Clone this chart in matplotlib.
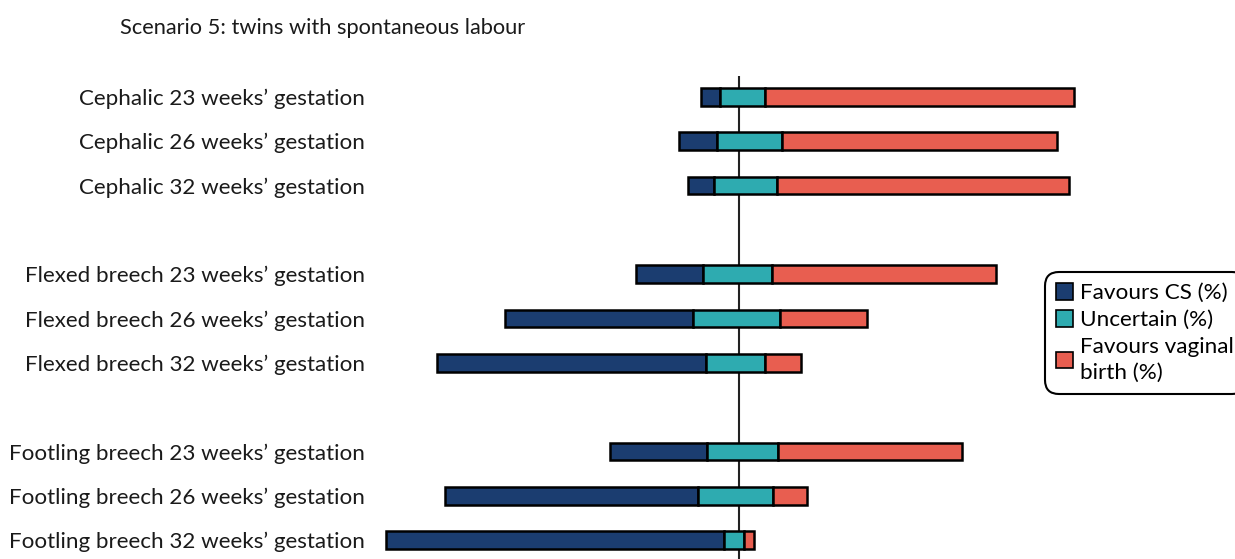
import matplotlib
matplotlib.use("Agg")
import matplotlib.pyplot as plt
from matplotlib.patches import Patch

plt.rcParams["font.family"] = ["Lato", "DejaVu Sans"]

# rows, top to bottom (blank rows split the three groups)
labels = ["Cephalic 23 weeks’ gestation", "Cephalic 26 weeks’ gestation", "Cephalic 32 weeks’ gestation",
          "Flexed breech 23 weeks’ gestation", "Flexed breech 26 weeks’ gestation", "Flexed breech 32 weeks’ gestation",
          "Footling breech 23 weeks’ gestation", "Footling breech 26 weeks’ gestation", "Footling breech 32 weeks’ gestation"]
rows = [0, 1, 2, 4, 5, 6, 8, 9, 10]

# percentages
cs = [5.1, 10.5, 7.2, 18.3, 51.4, 73.3, 26.5, 69.0, 92.2]
unc = [12.1, 17.6, 17.0, 18.6, 23.6, 16.1, 19.2, 20.3, 5.5]
unc_left = [5.2, 6.0, 6.8, 9.8, 12.5, 9.1, 8.7, 11.2, 4.1]   # share of "uncertain" left of the midline
vag = [84.4, 74.9, 79.6, 61.1, 23.7, 9.9, 50.1, 9.3, 2.6]

c_cs = "#1b3d70"
c_unc = "#2eabb0"
c_vag = "#e85e50"

fig = plt.figure(figsize=(12.35, 5.59), dpi=100)
W, H = 1235, 559
ax = fig.add_axes([375 / W, 0, 1 - 375 / W, 1 - 76 / H])

px = 3.67  # pixels per percent
ax.set_xlim((375 - 739.3) / px, (1235 - 739.3) / px)
ax.set_ylim((559 - 97) / 44.3, (76 - 97) / 44.3)

start_unc = [-u for u in unc_left]
start_cs = [s - c for s, c in zip(start_unc, cs)]
start_vag = [s + u for s, u in zip(start_unc, unc)]

kw = dict(height=0.4, edgecolor="black", linewidth=1.8)
ax.barh(rows, cs, left=start_cs, color=c_cs, **kw)
ax.barh(rows, unc, left=start_unc, color=c_unc, **kw)
ax.barh(rows, vag, left=start_vag, color=c_vag, **kw)
ax.axvline(0, color="#222222", linewidth=1.5, zorder=0)

ax.set_yticks(rows)
ax.set_yticklabels(labels, fontsize=16.1, color="#1a1a1a")
ax.tick_params(axis="y", length=0, pad=7)
ax.set_xticks([])
for s in ax.spines.values():
    s.set_visible(False)

fig.text(120 / W, 1 - 28 / H, "Scenario 5: twins with spontaneous labour",
         fontsize=15.7, color="#1a1a1a", va="center", ha="left")

handles = [Patch(facecolor=c_cs, edgecolor="black", linewidth=1.2),
           Patch(facecolor=c_unc, edgecolor="black", linewidth=1.2),
           Patch(facecolor=c_vag, edgecolor="black", linewidth=1.2)]
leg = fig.legend(handles, ["Favours CS (%)", "Uncertain (%)", "Favours vaginal\nbirth (%)"],
                 loc="upper left", bbox_to_anchor=(1045 / W, 1 - 272 / H),
                 fontsize=16.2, handlelength=0.75, handleheight=0.75, handletextpad=0.3,
                 labelspacing=0.3, borderpad=0.5, borderaxespad=0, fancybox=True,
                 edgecolor="black", framealpha=1)
leg.get_frame().set_linewidth(1.5)
leg.get_frame().set_boxstyle("round", pad=0, rounding_size=0.6)
for t in leg.get_texts():
    t.set_linespacing(1.35)

fig.savefig("out.png", dpi=100)
